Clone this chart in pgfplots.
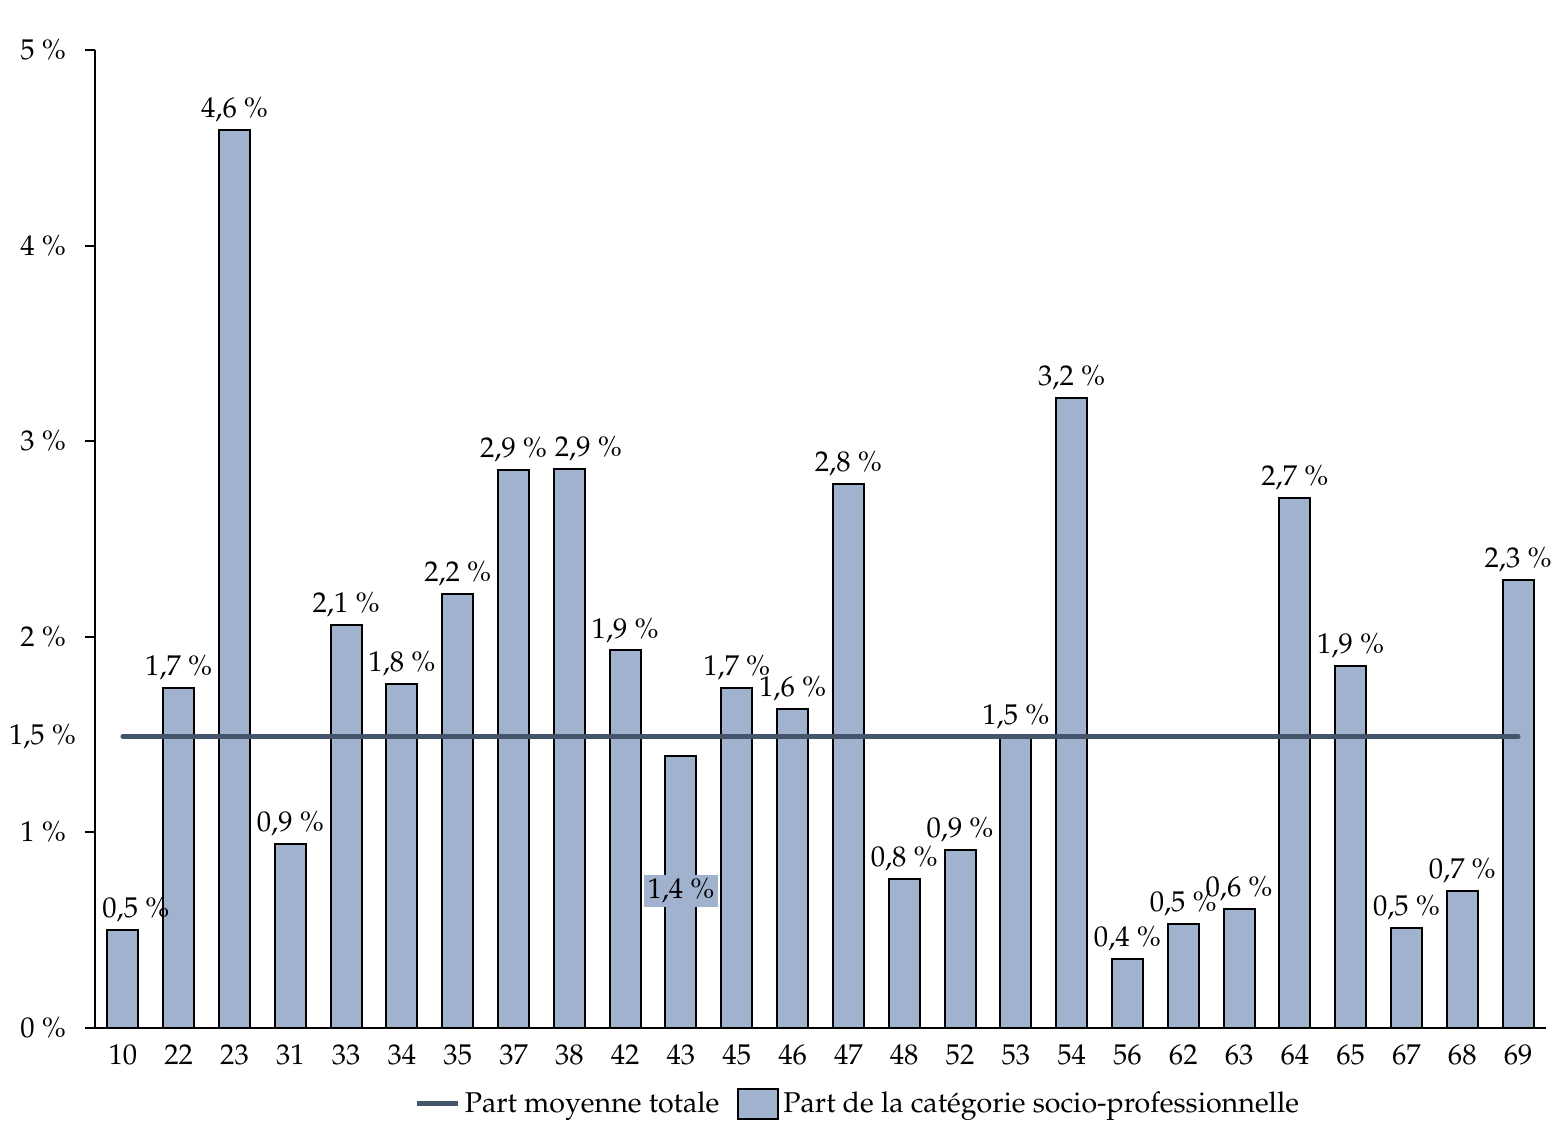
\documentclass[border=0pt]{standalone}
\usepackage[T1]{fontenc}
\usepackage{mathpazo}
\usepackage{pgfplots}
\usepackage{pgfplotstable}
\pgfplotsset{compat=1.18}
\definecolor{barc}{RGB}{161,178,206}
\definecolor{linec}{RGB}{68,84,106}
\newcommand{\onefive}{1,5~\%}
\newcommand{\fs}{\fontsize{14.3}{17}\selectfont}
\pgfplotstableread{
x cat y dx
0 10 0.50 6.5
1 22 1.74 0
2 23 4.59 0
3 31 0.94 0
4 33 2.06 0
5 34 1.76 0
6 35 2.22 0
7 37 2.852 0
8 38 2.856 9.5
9 42 1.93 0
10 43 1.39 0
11 45 1.74 0
12 46 1.63 0
13 47 2.78 0
14 48 0.76 0
15 52 0.91 0
16 53 1.49 0
17 54 3.22 0
18 56 0.355 0
19 62 0.53 0
20 63 0.61 0
21 64 2.71 0
22 65 1.852 0
23 67 0.51 0
24 68 0.70 0
25 69 2.29 0
}\datatable
\begin{document}
\begin{tikzpicture}[font=\fs]
\begin{axis}[
  name=ax, at={(0,0)}, anchor=south west,
  scale only axis, width=725.5pt, height=489pt,
  xmin=-0.5, xmax=25.5, ymin=0, ymax=5,
  axis x line*=bottom, axis y line*=left,
  axis line style={line width=1pt, -},
  xtick={0,...,25},
  xticklabels={10,22,23,31,33,34,35,37,38,42,43,45,46,47,48,52,53,54,56,62,63,64,65,67,68,69},
  xtick style={draw=none},
  ytick={0,1,2,3,4,5},
  yticklabel={\pgfmathprintnumber{\tick}~\%},
  y tick label style={/pgf/number format/assume math mode=true, xshift=-6pt},
  ytick style={line width=1pt, black},
  tick align=outside, major tick length=5pt,
  extra y ticks={1.49},
  extra y tick labels={\onefive},
  extra y tick style={major tick length=0pt},
  ymajorgrids=false, xmajorgrids=false,
  legend style={at={(0.5265,-0.0777)}, anchor=center, draw=none, legend columns=2,
    /tikz/every even column/.append style={column sep=7pt}, font=\fs},
  clip=false,
]
\addlegendimage{line width=2.5pt, color=linec, legend image code/.code={\draw[line width=2.5pt, color=linec] (0pt,0pt) -- (20.5pt,0pt);}}
\addlegendentry{Part moyenne totale}
\addplot[ybar, bar width=15.5pt, bar shift=0pt, fill=barc, draw=black, line width=1pt,
  legend image code/.code={\draw[fill=barc, draw=black, line width=1pt] (0pt,-7.5pt) rectangle (20pt,7.5pt);},
  skip coords between index={10}{11},
  visualization depends on={\thisrow{dx} \as \dx},
  nodes near coords={\pgfmathprintnumber[fixed,fixed zerofill,precision=1,use comma]{\pgfplotspointmeta}~\%},
  nodes near coords style={font=\fs, black, xshift=\dx pt, /pgf/number format/assume math mode=true}]
  table[x=x, y=y] {\datatable};
\addlegendentry{Part de la catégorie socio-professionnelle}
\addplot[ybar, bar width=15.5pt, bar shift=0pt, fill=barc, draw=black, line width=1pt, forget plot,
  restrict x to domain=10:10]
  table[x=x, y=y] {\datatable};
\addplot[line width=2.5pt, color=linec, line cap=round, forget plot] coordinates {(0,1.49) (25,1.49)};
\node[fill=barc, inner sep=2pt] at (axis cs:10,0.700) {1,4~\%};
\end{axis}
\path[use as bounding box] (-47.5pt,-55.5pt) rectangle (732.5pt,514pt);
\end{tikzpicture}
\end{document}
